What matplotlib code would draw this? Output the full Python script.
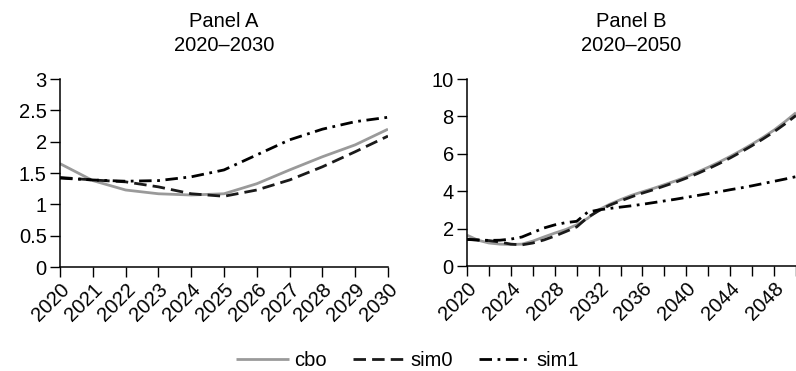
import matplotlib
matplotlib.use('Agg')
import matplotlib.pyplot as plt
import numpy as np

plt.rcParams['font.family'] = ['Liberation Sans', 'DejaVu Sans']

years = np.arange(2020, 2051)

cbo = [1.65, 1.38, 1.23, 1.17, 1.15, 1.17, 1.33, 1.55, 1.76, 1.95, 2.20,
       2.55, 3.00, 3.30, 3.55, 3.78, 3.97, 4.15, 4.35, 4.55, 4.77,
       5.02, 5.28, 5.56, 5.86, 6.18, 6.52, 6.88, 7.27, 7.72, 8.20]
sim0 = [1.43, 1.39, 1.36, 1.28, 1.17, 1.13, 1.23, 1.39, 1.60, 1.84, 2.09,
        2.60, 2.95, 3.25, 3.48, 3.70, 3.90, 4.08, 4.28, 4.48, 4.70,
        4.94, 5.20, 5.48, 5.78, 6.10, 6.44, 6.80, 7.18, 7.60, 8.05]
sim1 = [1.42, 1.39, 1.37, 1.38, 1.44, 1.55, 1.79, 2.03, 2.20, 2.32, 2.39,
        2.88, 3.00, 3.08, 3.15, 3.22, 3.30, 3.39, 3.48, 3.57, 3.67,
        3.77, 3.87, 3.97, 4.08, 4.18, 4.29, 4.41, 4.53, 4.65, 4.78]

titles = ['Panel A\n2020\u20132030', 'Panel B\n2020\u20132050']
yticks_a = [0, 0.5, 1, 1.5, 2, 2.5, 3]
ytick_labels_a = ['0', '0.5', '1', '1.5', '2', '2.5', '3']
yticks_b = [0, 2, 4, 6, 8, 10]

fs = 14.5
fig = plt.figure(figsize=(7.96, 3.71), dpi=100)
axA = fig.add_axes([0.0754, 0.280, 0.412, 0.507])
axB = fig.add_axes([0.5867, 0.283, 0.4133, 0.504])

gray = '#9a9a9a'

def draw(ax, n):
    x = years[:n]
    l1, = ax.plot(x, cbo[:n], color=gray, lw=2.0, label='cbo', solid_capstyle='butt')
    l2, = ax.plot(x, sim0[:n], color='#1a1a1a', lw=2.0, dashes=(4.5, 2.2), label='sim0')
    l3, = ax.plot(x, sim1[:n], color='black', lw=2.0, dashes=(4.5, 2.0, 1.0, 2.0), label='sim1')
    for s in ['top', 'right']:
        ax.spines[s].set_visible(False)
    for s in ['left', 'bottom']:
        ax.spines[s].set_linewidth(1.1)
    ax.tick_params(direction='out', length=7, width=1.0, labelsize=fs, pad=2.5)
    return [l1, l2, l3]

handles = draw(axA, 11)
axA.set_xlim(2020, 2030)
axA.set_ylim(0, 3)
axA.set_xticks(years[:11])
axA.set_xticklabels([str(y) for y in years[:11]], rotation=45, ha='right',
                    rotation_mode='anchor')
axA.set_yticks(yticks_a)
axA.set_yticklabels(ytick_labels_a)
axA.set_title(titles[0], fontsize=fs, pad=20, linespacing=1.35)

draw(axB, 31)
axB.set_xlim(2020, 2050)
axB.set_ylim(0, 10)
bt = years[::2]
axB.set_xticks(bt)
axB.set_xticklabels([str(y) if (y - 2020) % 4 == 0 and y < 2050 else '' for y in bt],
                    rotation=45, ha='right', rotation_mode='anchor')
axB.set_yticks(yticks_b)
axB.set_title(titles[1], fontsize=fs, pad=20, linespacing=1.35)

fig.legend(handles=handles, loc='center', bbox_to_anchor=(0.512, 0.027), ncol=3,
           frameon=False, fontsize=fs, handlelength=2.6, handletextpad=0.25,
           columnspacing=1.3, borderpad=0)

fig.savefig('out.png', dpi=100)
